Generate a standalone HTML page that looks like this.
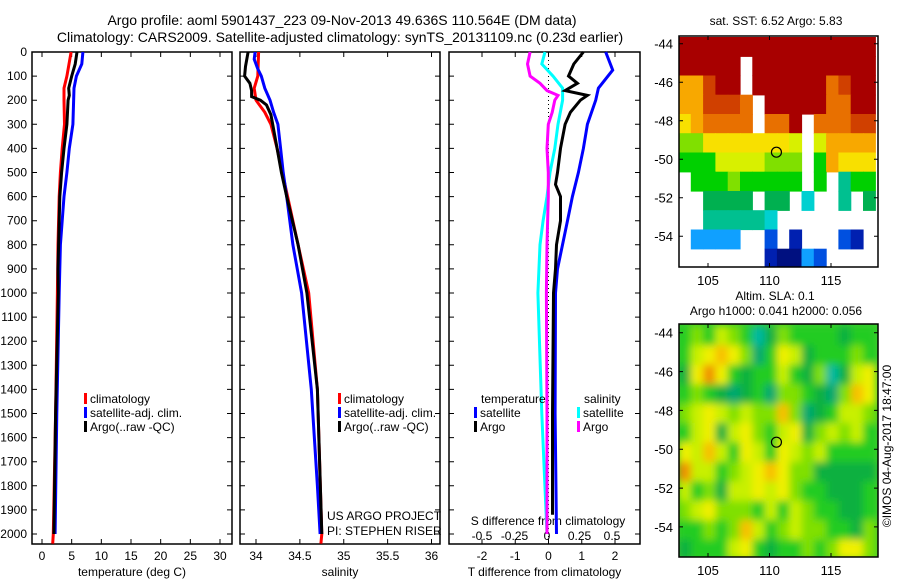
<!DOCTYPE html>
<html><head><meta charset="utf-8"><style>
body{margin:0;background:#fff;}
svg{display:block;font-family:"Liberation Sans",sans-serif;}
</style></head><body>
<svg id="c" width="900" height="580" viewBox="0 0 900 580">
<defs><filter id="blur" x="-10%" y="-10%" width="120%" height="120%"><feGaussianBlur stdDeviation="4"/></filter></defs>
<text x="342" y="25" font-size="14" text-anchor="middle">Argo profile: aoml 5901437_223 09-Nov-2013 49.636S 110.564E (DM data)</text>
<text x="340" y="42" font-size="14" text-anchor="middle">Climatology: CARS2009. Satellite-adjusted climatology: synTS_20131109.nc (0.23d earlier)</text>
<text x="776" y="25" font-size="12" text-anchor="middle">sat. SST: 6.52 Argo: 5.83</text>
<text x="775" y="300" font-size="12" text-anchor="middle">Altim. SLA: 0.1</text>
<text x="776" y="315" font-size="12" text-anchor="middle">Argo h1000: 0.041 h2000: 0.056</text>
<text transform="translate(891,446) rotate(-90)" font-size="12" text-anchor="middle">©IMOS 04-Aug-2017 18:47:00</text>
<g id="g"></g>
</svg>
<script>
// ---- data ----
const tDepth=[0,50,100,150,180,200,250,300,400,500,600,700,800,900,1000,1500,2000];
const tArgo=[5.9,5.6,5.0,4.5,4.6,4.4,4.3,4.2,3.7,3.3,3.0,2.9,2.8,2.7,2.75,2.3,2.0];
const tClimDepth=[0,100,150,200,300,400,500,600,800,1000,1500,2000,2040];
const tClim=[4.9,4.2,3.7,3.7,3.8,3.4,3.1,2.9,2.7,2.6,2.3,1.9,1.8];
const tSatDepth=[0,50,100,150,300,400,500,600,700,800,1000,1500,2000];
const tSat=[6.9,6.7,5.8,5.4,5.2,4.6,4.2,3.7,3.4,3.1,2.9,2.5,2.2];
const sClimDepth=[0,100,150,200,250,300,400,500,600,800,1000,1400,2000,2040];
const sClim=[34.03,34.02,33.98,34.0,34.1,34.17,34.24,34.3,34.36,34.48,34.6,34.7,34.75,34.74];
const sSatDepth=[0,30,70,100,150,200,250,300,400,500,600,800,1000,1400,1800,2000];
const sSat=[33.99,33.98,34.02,34.06,34.1,34.16,34.2,34.25,34.28,34.31,34.35,34.42,34.52,34.63,34.7,34.73];
const sArgoDepth=[0,60,100,130,160,185,200,220,260,300,400,500,600,800,1000,1400,2000];
const sArgo=[33.91,33.88,33.87,33.93,33.95,33.95,34.05,34.12,34.17,34.19,34.24,34.29,34.35,34.48,34.58,34.7,34.75];
const dTDepth=[0,75,150,200,300,400,500,600,700,800,900,1000,1500,2000];
const dTSat=[1.72,1.93,1.5,1.42,1.17,1.05,0.9,0.72,0.57,0.42,0.27,0.21,0.2,0.24];
const dTArgoDepth=[0,50,100,130,160,180,200,250,300,400,500,550,600,700,800,900,1000,1500,1920];
const dTArgo=[1.05,0.76,0.6,0.87,0.5,1.17,0.96,0.66,0.5,0.36,0.27,0.21,0.36,0.36,0.24,0.21,0.15,0.12,0.12];
const dSDepth=[0,50,100,150,200,300,400,500,600,700,800,1000,1500,2000];
const dSSat=[-0.015,-0.04,0.046,0.12,0.12,0.085,0.06,0.023,0,-0.03,-0.054,-0.07,-0.04,0];
const dSArgoDepth=[0,50,100,130,160,180,200,250,300,400,500,600,800,1000,1500,2000];
const dSArgo=[-0.13,-0.15,-0.13,-0.054,0,0.085,0.06,0.04,0.01,0,0.01,0.01,0,-0.005,0,0];
const depthTicks=[0,100,200,300,400,500,600,700,800,900,1000,1100,1200,1300,1400,1500,1600,1700,1800,1900,2000];
const tTicks=[0,5,10,15,20,25,30];
const sTicks=[34,34.5,35,35.5,36];
const sTickLabels=["34","34.5","35","35.5","36"];
const dTTicks=[-2,-1,0,1,2];
const dSTicks=[-0.5,-0.25,0,0.25,0.5];
const dSTickLabels=["-0.5","-0.25","0","0.25","0.5"];
const mapLons=[102.6,103.6,104.6,105.6,106.6,107.6,108.6,109.6,110.6,111.6,112.6,113.6,114.6,115.6,116.6,117.6];
const mapLats=[-43.65,-44.65,-45.65,-46.65,-47.65,-48.65,-49.65,-50.65,-51.65,-52.65,-53.65,-54.65];
const sstGrid=[
[9,9,9,9,9,9,9,9,9,9,9,9,9,9,9,9],
[9,9,9,9,9,0,9,9,9,9,9,9,9,9,9,9],
[7,7,8,9,9,0,9,9,9,9,9,9,7.5,8,9,9],
[6.8,6.8,7.7,7.7,7.7,7.5,0,8.5,8.5,9,9,9,7.5,7.5,9,9],
[6.6,6.9,7.2,7.2,7.2,7.3,0,7.5,7.5,8.5,0,7.2,7.2,7.2,7.6,7.6],
[5.6,5.6,6.4,6.4,6.4,6.5,6.5,6.5,6.5,6.2,0,6.0,7.0,7.0,7.0,7.0],
[5.3,5.3,5.3,6.0,6.0,6.0,6.3,5.5,5.4,5.4,0,5.3,6.8,6.6,6.6,6.6],
[0,5.2,5.0,5.0,5.8,5.0,5.0,5.0,5.0,5.0,0,5.0,0,4.5,5.0,5.0],
[0,0,4.6,4.6,4.8,4.8,0,4.9,4.9,0,4.2,0,0,4.4,0,4.8],
[0,0,4.3,4.3,4.3,4.4,4.4,4.1,0,0,0,0,0,0,0,0],
[0,3.7,3.8,3.8,3.8,0,0,3.0,0,2.2,0,0,0,3.2,2.6,0],
[0,0,0,0,0,0,0,2.4,2.0,2.0,3.3,3.0,0,0,0,0]];
const slaGrid=[
[0.45,0.5,0.45,0.55,0.5,0.45,0.3,0.4,0.5,0.45,0.45,0.45,0.45,0.4,0.45,0.45],
[0.45,0.55,0.6,0.65,0.6,0.5,0.35,0.45,0.6,0.55,0.4,0.45,0.45,0.45,0.5,0.45],
[0.4,0.6,0.7,0.6,0.45,0.4,0.45,0.45,0.55,0.45,0.4,0.5,0.3,0.4,0.55,0.6],
[0.45,0.5,0.45,0.4,0.35,0.4,0.45,0.35,0.5,0.5,0.45,0.4,0.35,0.5,0.65,0.6],
[0.5,0.55,0.6,0.55,0.5,0.55,0.5,0.5,0.65,0.5,0.35,0.4,0.45,0.55,0.55,0.5],
[0.45,0.55,0.6,0.4,0.55,0.6,0.5,0.45,0.55,0.6,0.4,0.5,0.55,0.5,0.55,0.45],
[0.6,0.55,0.65,0.55,0.45,0.6,0.55,0.45,0.6,0.55,0.5,0.55,0.45,0.45,0.45,0.45],
[0.7,0.55,0.55,0.45,0.5,0.55,0.6,0.65,0.6,0.5,0.5,0.4,0.4,0.4,0.4,0.4],
[0.55,0.45,0.5,0.4,0.55,0.55,0.6,0.55,0.6,0.5,0.45,0.45,0.4,0.4,0.4,0.45],
[0.5,0.55,0.6,0.5,0.5,0.5,0.45,0.55,0.45,0.55,0.5,0.45,0.45,0.4,0.4,0.45],
[0.45,0.45,0.5,0.45,0.5,0.65,0.55,0.45,0.5,0.55,0.5,0.5,0.45,0.45,0.4,0.5],
[0.4,0.45,0.45,0.45,0.55,0.6,0.45,0.4,0.45,0.45,0.5,0.45,0.5,0.6,0.6,0.5]];
const argoLon=110.564, argoLat=-49.636;
const lonTicks=[105,110,115];
const latTicks=[-44,-46,-48,-50,-52,-54];

// ---- drawing ----
const NS="http://www.w3.org/2000/svg";
const G=document.getElementById('g');
function mk(tag,attrs,parent){const e=document.createElementNS(NS,tag);for(const k in attrs)e.setAttribute(k,attrs[k]);(parent||G).appendChild(e);return e;}
const yTop=52,yBot=544;
const yD=d=>yTop+d*0.241;
function lin(d0,d1,p0,p1){return v=>p0+(v-d0)*(p1-p0)/(d1-d0);}
const xT=lin(0,30,42,220), xS=lin(34,36,256,431.5), xDT=lin(-2,2,482,615), xDS=lin(-0.5,0.5,482,612);
const panels=[[32,232],[240,440],[449,640]];
panels.forEach((p,i)=>{
  const r=mk('rect',{x:p[0],y:yTop,width:p[1]-p[0],height:yBot-yTop,fill:'none',stroke:'#000','stroke-width':1.5});
  
  
  depthTicks.forEach(d=>{
    const t=mk('path',{d:`M${p[0]} ${yD(d)}h5M${p[1]} ${yD(d)}h-5`,stroke:'#000'});
    
    
  });
});
depthTicks.forEach(d=>{
  const t=mk('text',{x:27,y:yD(d)+4,'font-size':12,'text-anchor':'end'});t.textContent=d;
  
  
});
function xAxis(ticks,labels,fx,p,lab){
  ticks.forEach((v,i)=>{
    const x=fx(v);
    const t=mk('path',{d:`M${x} ${yTop}v5M${x} ${yBot}v-5`,stroke:'#000'});
    
    
    const l=mk('text',{x:x,y:560,'font-size':12,'text-anchor':'middle'});l.textContent=labels[i];
    
    
  });
  const l=mk('text',{x:(p[0]+p[1])/2,y:576,'font-size':12,'text-anchor':'middle'});l.textContent=lab;
  
  
}
xAxis(tTicks,tTicks.map(String),xT,panels[0],'temperature (deg C)');
xAxis(sTicks,sTickLabels,xS,panels[1],'salinity');
xAxis(dTTicks,dTTicks.map(String),xDT,panels[2],'T difference from climatology');
dSTicks.forEach((v,i)=>{
  const l=mk('text',{x:xDS(v),y:540,'font-size':12,'text-anchor':'middle'});l.textContent=dSTickLabels[i];
  
  
});
{const l=mk('text',{x:548,y:525,'font-size':12,'text-anchor':'middle'});l.textContent='S difference from climatology';

}
{const z=mk('line',{x1:xDT(0),x2:xDT(0),y1:yTop,y2:yBot,stroke:'#000','stroke-dasharray':'1,3'});

}
function line(depths,vals,fx,color,name){
  const pts=depths.map((d,i)=>fx(vals[i]).toFixed(1)+','+yD(d).toFixed(1)).join(' ');
  const e=mk('polyline',{points:pts,fill:'none',stroke:color,'stroke-width':3,'stroke-linejoin':'miter'});
  
  
}
line(tClimDepth,tClim,xT,'#f00','temp-climatology-line');
line(tSatDepth,tSat,xT,'#00f','temp-satellite-line');
line(tDepth,tArgo,xT,'#000','temp-argo-line');
line(sClimDepth,sClim,xS,'#f00','sal-climatology-line');
line(sSatDepth,sSat,xS,'#00f','sal-satellite-line');
line(sArgoDepth,sArgo,xS,'#000','sal-argo-line');
line(dSDepth,dSSat,xDS,'#0ff','sdiff-satellite-line');
line(dSArgoDepth,dSArgo,xDS,'#f0f','sdiff-argo-line');
line(dTDepth,dTSat,xDT,'#00f','tdiff-satellite-line');
line(dTArgoDepth,dTArgo,xDT,'#000','tdiff-argo-line');
function legItem(x,y,color,txt){
  const r=mk('rect',{x:x,y:y-10,width:3,height:11,fill:color});
  
  
  const t=mk('text',{x:x+6,y:y,'font-size':12});t.textContent=txt;
  
  
}
[[84],[338]].forEach(([x])=>{
  legItem(x,403,'#f00','climatology');legItem(x,417,'#00f','satellite-adj. clim.');legItem(x,431,'#000','Argo(..raw -QC)');
});
{const t=mk('text',{x:481,y:403,'font-size':12});t.textContent='temperature';
 const s=mk('text',{x:584,y:403,'font-size':12});s.textContent='salinity';}
legItem(474,417,'#00f','satellite');legItem(474,431,'#000','Argo');
legItem(577,417,'#0ff','satellite');legItem(577,431,'#f0f','Argo');
{const a=mk('text',{x:327,y:520,'font-size':12});a.textContent='US ARGO PROJECT';
 const b=mk('text',{x:327,y:535,'font-size':12});b.textContent='PI: STEPHEN RISER';}

// maps
const mx=lin(105,115,708,831);
function sstColor(v){
  const st=[[2,'#001080'],[2.6,'#0020b0'],[3.2,'#0050e0'],[3.8,'#10a0ff'],[4.2,'#00d0d0'],[4.5,'#00c090'],[4.9,'#00b050'],[5.3,'#00d000'],[5.8,'#80e000'],[6.3,'#d8f000'],[6.6,'#f8e000'],[7.0,'#f8a800'],[7.5,'#e87000'],[8.0,'#d04000'],[8.6,'#a80000']];
  for(let i=0;i<st.length;i++){if(v<=st[i][0])return st[i][1];}return '#a80000';
}
function slaColor(v){
  if(v<=0.28)return '#10c0e0';if(v<=0.32)return '#00b8a0';if(v<=0.37)return '#00a870';if(v<=0.42)return '#10b040';
  if(v<=0.47)return '#20cc20';if(v<=0.52)return '#80e000';if(v<=0.57)return '#c8f000';if(v<=0.62)return '#f0f000';if(v<=0.67)return '#f8c000';return '#f09000';
}
function drawMap(y0,y1,latTop,latBot,grid,cf,name,smooth){
  const my=lin(latTop,latBot,y0,y1);
  const clip='clip'+name;
  const cp=mk('clipPath',{id:clip});mk('rect',{x:679,y:y0,width:199,height:y1-y0},cp);
  const outer=mk('g',{'clip-path':`url(#${clip})`});
  if(smooth){mk('rect',{x:679,y:y0,width:199,height:y1-y0,fill:'#40cc30'},outer);}
  const g=mk('g',smooth?{filter:'url(#blur)'}:{},outer);
  
  
  grid.forEach((row,r)=>row.forEach((v,c)=>{
    if(!v)return;
    const x=mx(mapLons[c]),y=my(mapLats[r]);
    const e=mk('rect',{x:x.toFixed(1),y:y.toFixed(1),width:(mx(mapLons[c]+1)-x+0.6).toFixed(1),height:(my(mapLats[r]-1)-y+0.6).toFixed(1),fill:cf(v)},g);
    
    
  }));
  const f=mk('rect',{x:679,y:y0,width:199,height:y1-y0,fill:'none',stroke:'#000','stroke-width':1.5});
  
  
  lonTicks.forEach(l=>{
    const x=mx(l);
    const t=mk('path',{d:`M${x} ${y0}v4M${x} ${y1}v-4`,stroke:'#000'});
    
    
    const tx=mk('text',{x:x,y:y1+18,'font-size':13,'text-anchor':'middle'});tx.textContent=l;
    
    
  });
  latTicks.forEach(l=>{
    const y=my(l);
    const t=mk('path',{d:`M679 ${y}h4M878 ${y}h-4`,stroke:'#000'});
    
    
    const tx=mk('text',{x:673,y:y+5,'font-size':13,'text-anchor':'end'});tx.textContent=l;
    
    
  });
  const c=mk('circle',{cx:mx(argoLon),cy:my(argoLat),r:5,fill:'none',stroke:'#000','stroke-width':1.2});
  
  
}
drawMap(36,267,-43.6,-55.6,sstGrid,sstColor,'sst-map',false);
drawMap(324,557,-43.55,-55.55,slaGrid,slaColor,'sla-map',true);
</script>
</body></html>
